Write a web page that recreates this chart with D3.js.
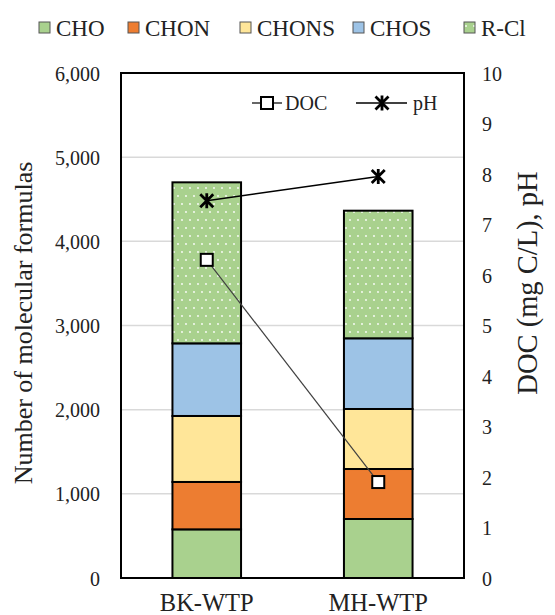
<!DOCTYPE html>
<html><head><meta charset="utf-8">
<script src="https://cdn.jsdelivr.net/npm/d3@7"></script>
<style>body{margin:0;background:#fff}svg text{font-family:"Liberation Serif","Times New Roman","DejaVu Serif",serif !important}</style>
</head><body><svg id="c" width="555" height="615"></svg>
<script>
const categories = ["BK-WTP", "MH-WTP"];
const groups = ["CHO", "CHON", "CHONS", "CHOS", "R-Cl"];
const CHO = [578, 701];
const CHON = [563, 594];
const CHONS = [784, 713];
const CHOS = [863, 840];
const RCl = [1913, 1516];
const DOC = [6.3, 1.9];
const pH = [7.47, 7.95];
const leftTicks = [0, 1000, 2000, 3000, 4000, 5000, 6000];
const rightTicks = [0, 1, 2, 3, 4, 5, 6, 7, 8, 9, 10];
const colors = {"CHO": "#a9d18e", "CHON": "#ed7d31", "CHONS": "#ffe699", "CHOS": "#9dc3e6", "R-Cl": "url(#dots)"};

const svg = d3.select("#c");
const M = {l: 121, r: 464, t: 73, b: 578};
const defs = svg.append("defs");
const pat = defs.append("pattern").attr("id", "dots").attr("patternUnits", "userSpaceOnUse")
  .attr("width", 8).attr("height", 16);
pat.append("rect").attr("width", 8).attr("height", 16).attr("fill", "#a9d18e");
pat.append("circle").attr("cx", 2).attr("cy", 4).attr("r", 0.9).attr("fill", "#fff");
pat.append("circle").attr("cx", 6).attr("cy", 12).attr("r", 0.9).attr("fill", "#fff");

const x = d3.scaleBand().domain(categories).range([M.l, M.r]).paddingInner(0.6).paddingOuter(0.3);
const y = d3.scaleLinear().domain([0, 6000]).range([M.b, M.t]);
const y2 = d3.scaleLinear().domain([0, 10]).range([M.b, M.t]);

// gridlines
svg.append("g").selectAll("line").data(leftTicks.slice(1, -1)).join("line")
  .attr("x1", M.l).attr("x2", M.r).attr("y1", d => y(d)).attr("y2", d => y(d))
  .attr("stroke", "#d9d9d9").attr("stroke-width", 1.5);

// stacked bars
const table = categories.map((c, i) => ({cat: c, "CHO": CHO[i], "CHON": CHON[i], "CHONS": CHONS[i], "CHOS": CHOS[i], "R-Cl": RCl[i]}));
const stacked = d3.stack().keys(groups)(table);
svg.append("g").selectAll("g").data(stacked).join("g")
  .attr("fill", d => colors[d.key])
  .selectAll("rect").data(d => d).join("rect")
  .attr("x", d => x(d.data.cat)).attr("width", x.bandwidth())
  .attr("y", d => y(d[1])).attr("height", d => y(d[0]) - y(d[1]))
  .attr("stroke", "#000").attr("stroke-width", 2);

// frame
svg.append("rect").attr("x", M.l).attr("y", M.t).attr("width", M.r - M.l).attr("height", M.b - M.t)
  .attr("fill", "none").attr("stroke", "#000").attr("stroke-width", 2);

// axes
const ax = svg.append("g").attr("transform", `translate(${M.l - 21},0)`)
  .call(d3.axisLeft(y).tickValues(leftTicks).tickFormat(d3.format(",")).tickSize(0).tickPadding(0));
ax.select(".domain").remove();
ax.selectAll("text").attr("font-size", 20).attr("fill", "#222").attr("dy", "0.35em");

const ax2 = svg.append("g").attr("transform", `translate(${M.r + 18},0)`)
  .call(d3.axisRight(y2).tickValues(rightTicks).tickSize(0).tickPadding(0));
ax2.select(".domain").remove();
ax2.selectAll("text").attr("font-size", 20).attr("fill", "#222").attr("dy", "0.35em");

const axb = svg.append("g").attr("transform", `translate(0,${M.b})`)
  .call(d3.axisBottom(x).tickSize(0).tickPadding(0));
axb.select(".domain").remove();
axb.selectAll("text").attr("font-size", 24.5).attr("fill", "#222").attr("y", 33).attr("dy", null);

// axis titles
svg.append("text").attr("transform", "translate(32,323) rotate(-90)").attr("text-anchor", "middle")
  .attr("font-size", 26).attr("fill", "#222").text("Number of molecular formulas");
svg.append("text").attr("transform", "translate(537,283) rotate(-90)").attr("text-anchor", "middle")
  .attr("font-size", 28.5).attr("fill", "#222").text("DOC (mg C/L), pH");

// lines
const xc = d => x(d) + x.bandwidth() / 2;
const docPts = categories.map((c, i) => [xc(c), y2(DOC[i])]);
const phPts = categories.map((c, i) => [xc(c), y2(pH[i])]);
svg.append("path").attr("d", d3.line()(docPts)).attr("fill", "none").attr("stroke", "#404040").attr("stroke-width", 1.2);
svg.append("path").attr("d", d3.line()(phPts)).attr("fill", "none").attr("stroke", "#000").attr("stroke-width", 1.5);

function square(g, cx, cy) {
  g.append("rect").attr("x", cx - 6).attr("y", cy - 6).attr("width", 12).attr("height", 12)
    .attr("fill", "#fff").attr("stroke", "#000").attr("stroke-width", 2);
}
function star(g, cx, cy) {
  const s = 6.5;
  g.append("path").attr("d", `M${cx - s},${cy - s}L${cx + s},${cy + s}M${cx - s},${cy + s}L${cx + s},${cy - s}M${cx},${cy - s - 1}L${cx},${cy + s + 1}`)
    .attr("stroke", "#000").attr("stroke-width", 2.8).attr("fill", "none");
}
docPts.forEach(p => square(svg, p[0], p[1]));
phPts.forEach(p => star(svg, p[0], p[1]));

// inner legend
const ly = 103;
svg.append("line").attr("x1", 252).attr("x2", 282).attr("y1", ly).attr("y2", ly).attr("stroke", "#000").attr("stroke-width", 1.2);
square(svg, 267, ly);
svg.append("text").attr("x", 285).attr("y", ly).attr("dy", "0.35em").attr("font-size", 20).attr("fill", "#222").text("DOC");
svg.append("line").attr("x1", 356).attr("x2", 407).attr("y1", ly).attr("y2", ly).attr("stroke", "#000").attr("stroke-width", 1.5);
star(svg, 382, ly);
svg.append("text").attr("x", 413).attr("y", ly).attr("dy", "0.35em").attr("font-size", 20).attr("fill", "#222").text("pH");

// top legend
const legX = [39, 128, 240, 353, 464];
const lg = svg.append("g").selectAll("g").data(groups).join("g")
  .attr("transform", (d, i) => `translate(${legX[i]},22)`);
lg.append("rect").attr("width", 11).attr("height", 11).attr("fill", d => colors[d]).attr("stroke", "#555").attr("stroke-width", 1);
lg.append("text").attr("x", 17).attr("y", 5.5).attr("dy", "0.35em").attr("font-size", 23).attr("fill", "#222").text(d => d);
</script></body></html>
